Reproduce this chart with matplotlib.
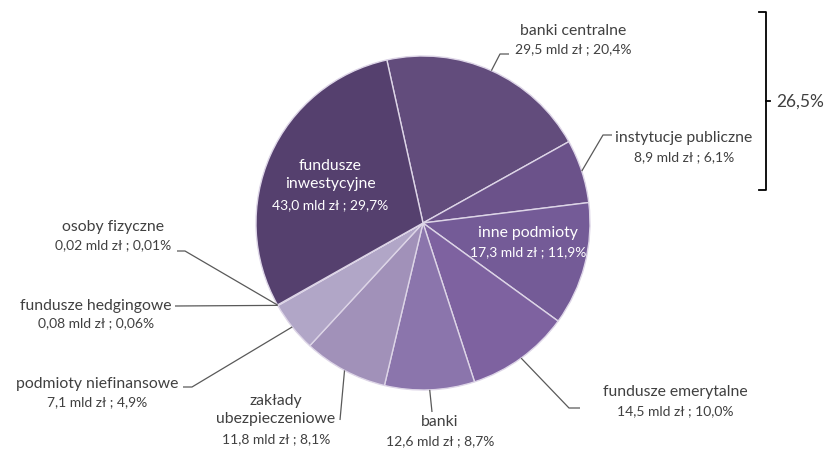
import numpy as np
import matplotlib
matplotlib.use("Agg")
import matplotlib.pyplot as plt

W, H = 833, 456

# Struktura inwestorów (mld zł), kolejność zgodnie z ruchem wskazówek zegara
sektory = ["banki centralne", "instytucje publiczne", "inne podmioty",
           "fundusze emerytalne", "banki", "zakłady\nubezpieczeniowe",
           "podmioty niefinansowe", "fundusze hedgingowe", "osoby fizyczne",
           "fundusze\ninwestycyjne"]
wartosci = [29.5, 8.9, 17.3, 14.5, 12.6, 11.8, 7.1, 0.08, 0.02, 43.0]
udzialy = [20.4, 6.1, 11.9, 10.0, 8.7, 8.1, 4.9, 0.06, 0.01, 29.7]
suma_grupy = "26,5%"

kolory = ["#624c7c", "#6b528a", "#745b97", "#7e62a0", "#8b75ac",
          "#a191b9", "#b1a6c7", "#b5abca", "#b8aecc", "#55406e"]

# pozycje etykiet w pikselach: (x środka, y nazwy, y wartości, wewnątrz?)
etykiety = [
    (573, 31, 49, False),
    (684, 138, 157, False),
    (528, 233, 252, True),
    (675, 392, 411, False),
    (440, 422, 441, False),
    (276, 410, 439, False),
    (97, 384, 402, False),
    (96, 306, 323, False),
    (113, 227, 245, False),
    (330, 175, 205, True),
]
# łamane linie odniesienia: (kolano, koniec poziomy) w pikselach
linie = {
    0: [(500, 55), (509, 55)],
    1: [(603, 136), (612, 136)],
    3: [(569, 409), (580, 409)],
    4: [(432, 413)],
    5: [(340, 421)],
    6: [(192, 388), (183, 388)],
    7: [(175, 307)],
    8: [(185, 252), (177, 252)],
}


def fmt(v):
    s = f"{v:.2f}" if v < 1 else f"{v:.1f}"
    return s.replace(".", ",")


def py(y):
    return H - y


plt.rcParams["font.family"] = ["Lato", "DejaVu Sans"]
fig = plt.figure(figsize=(W / 100, H / 100), dpi=100)
ax = fig.add_axes([0, 0, 1, 1])

cx, cy, r = 423, 224, 167
wedges, _ = ax.pie(wartosci, colors=kolory, startangle=102.5, counterclock=False,
                   center=(cx, py(cy)), radius=r, frame=True,
                   wedgeprops=dict(edgecolor="#ddd5e7", linewidth=1.0))
ax.set_xlim(0, W)
ax.set_ylim(0, H)
ax.set_aspect("equal")
ax.axis("off")

szary = "#404040"
for i, (w, nazwa) in enumerate(zip(wedges, sektory)):
    x, yn, yv, wewn = etykiety[i]
    kolor = "white" if wewn else szary
    ax.text(x, py(yn), nazwa, ha="center", va="center", fontsize=11.3,
            color=kolor, linespacing=1.4)
    ax.text(x, py(yv), f"{fmt(wartosci[i])} mld zł ; {fmt(udzialy[i])}%",
            ha="center", va="center", fontsize=10, color=kolor)
    if i in linie:
        kat = np.deg2rad((w.theta1 + w.theta2) / 2)
        px0 = cx + r * np.cos(kat)
        py0 = py(cy) + r * np.sin(kat)
        xs = [px0] + [p[0] for p in linie[i]]
        ys = [py0] + [py(p[1]) for p in linie[i]]
        ax.plot(xs, ys, color="#595959", lw=0.9, solid_capstyle="butt")

# klamra łącząca banki centralne i instytucje publiczne
bx, y0, y1, ym = 766, 13, 191, 102
ax.plot([bx - 7, bx, bx, bx - 7], [py(y0), py(y0), py(y1), py(y1)],
        color="black", lw=1.3)
ax.plot([bx, bx + 4], [py(ym), py(ym)], color="black", lw=1.3)
ax.text(776, py(ym), suma_grupy, ha="left", va="center", fontsize=12.5, color=szary)

fig.savefig("out.png", dpi=100, facecolor="white")
